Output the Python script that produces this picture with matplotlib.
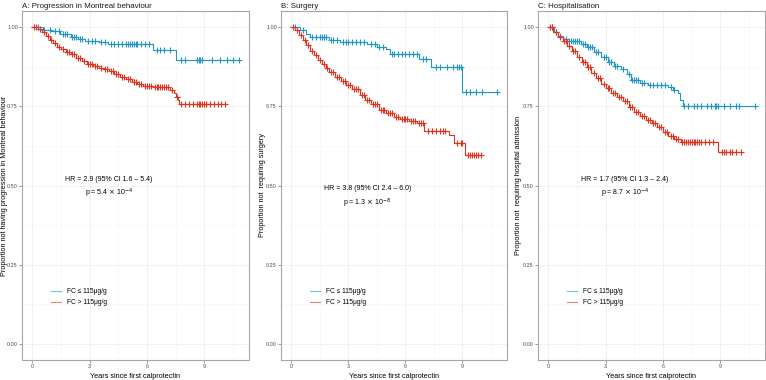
import numpy as np
import matplotlib
matplotlib.use('Agg')
import matplotlib.pyplot as plt

plt.rcParams['font.family'] = ['Liberation Sans', 'DejaVu Sans']

# colours
blue = '#2196C4'
red = '#E2311D'

#######################################################################
# Survival steps (time in years, proportion)

# A: Progression in Montreal behaviour
tA_b = [0, 0.55, 1.0, 1.45, 2.0, 2.4, 2.75, 3.5, 3.95, 6.3, 7.5, 10.8]
sA_b = [1.0, 0.99, 0.986, 0.978, 0.968, 0.962, 0.956, 0.951, 0.946, 0.927, 0.896, 0.896]
cA_b = [0.3, 0.6, 0.9, 1.2, 1.4, 1.6, 1.7, 1.8, 2.1, 2.2, 2.3, 2.5, 2.6, 2.9, 3.1, 3.3,
        3.6, 3.8, 4.1, 4.3, 4.5, 4.7, 4.9, 5.0, 5.1, 5.2, 5.3, 5.4, 5.5, 5.7, 5.9, 6.1,
        6.5, 6.7, 6.9, 7.2, 7.8, 8.0, 8.6, 8.7, 8.8, 8.9, 9.4, 9.8, 10.2, 10.5, 10.8]
tA_r = [0, 0.3, 0.5, 0.7, 0.9, 1.1, 1.3, 1.5, 1.75, 2.0, 2.3, 2.6, 2.85, 3.2, 3.5, 3.75,
        4.0, 4.3, 4.6, 4.9, 5.2, 5.5, 5.8, 6.3, 7.2, 7.4, 7.5, 7.6, 7.7, 10.1]
sA_r = [1.0, 0.993, 0.985, 0.972, 0.96, 0.948, 0.938, 0.93, 0.922, 0.914, 0.903, 0.893,
        0.884, 0.876, 0.87, 0.866, 0.86, 0.852, 0.843, 0.835, 0.827, 0.82, 0.815, 0.81,
        0.80, 0.79, 0.78, 0.768, 0.758, 0.758]
cA_r = [0.1, 0.2, 0.4, 0.6, 0.8, 1.0, 1.2, 1.4, 1.6, 1.8, 1.9, 2.1, 2.2, 2.4, 2.5, 2.7,
        2.9, 3.0, 3.1, 3.3, 3.4, 3.6, 3.8, 3.9, 4.1, 4.2, 4.4, 4.5, 4.7, 4.8, 5.0, 5.1,
        5.3, 5.4, 5.6, 5.7, 5.9, 6.0, 6.1, 6.2, 6.4, 6.5, 6.6, 6.7, 6.8, 6.9, 7.0, 7.1,
        7.3, 7.55, 7.8, 8.0, 8.2, 8.4, 8.6, 8.7, 8.8, 8.9, 9.0, 9.1, 9.3, 9.5, 9.7, 9.9, 10.1]

# B: Surgery
tB_b = [0, 0.45, 0.8, 1.0, 2.0, 2.55, 4.0, 4.5, 5.0, 5.2, 6.7, 7.35, 9.0, 10.8]
sB_b = [1.0, 0.99, 0.978, 0.967, 0.96, 0.951, 0.946, 0.938, 0.93, 0.915, 0.899, 0.875,
        0.795, 0.795]
cB_b = [0.2, 0.6, 1.1, 1.3, 1.5, 1.6, 1.7, 1.8, 2.1, 2.2, 2.4, 2.7, 2.9, 3.0, 3.2, 3.4,
        3.6, 3.8, 4.2, 4.4, 4.6, 4.8, 5.3, 5.4, 5.6, 5.8, 6.0, 6.2, 6.4, 6.6, 6.9, 7.1,
        7.6, 7.8, 8.2, 8.5, 8.7, 8.8, 8.9, 9.2, 9.4, 9.7, 10.0, 10.8]
tB_r = [0, 0.2, 0.4, 0.6, 0.8, 1.0, 1.2, 1.4, 1.6, 1.8, 2.0, 2.3, 2.6, 2.9, 3.2, 3.6,
        3.9, 4.2, 4.6, 5.0, 5.4, 5.7, 6.2, 6.6, 7.0, 8.3, 8.55, 9.15, 9.96]
sB_r = [1.0, 0.99, 0.975, 0.96, 0.942, 0.925, 0.91, 0.897, 0.884, 0.87, 0.857, 0.842,
        0.828, 0.816, 0.804, 0.784, 0.77, 0.757, 0.738, 0.728, 0.717, 0.71, 0.703, 0.696,
        0.672, 0.66, 0.633, 0.597, 0.597]
cB_r = [0.1, 0.3, 0.5, 0.7, 0.9, 1.1, 1.3, 1.5, 1.7, 1.9, 2.1, 2.2, 2.4, 2.5, 2.7, 2.8,
        3.0, 3.1, 3.3, 3.4, 3.5, 3.7, 3.8, 4.0, 4.1, 4.3, 4.4, 4.5, 4.7, 4.8, 4.9, 5.1,
        5.2, 5.3, 5.5, 5.6, 5.8, 5.9, 6.0, 6.1, 6.3, 6.4, 6.5, 6.7, 6.8, 6.9, 7.2, 7.4,
        7.6, 7.8, 8.0, 8.1, 8.7, 8.9, 9.0, 9.3, 9.4, 9.5, 9.6, 9.7, 9.8, 9.96]

# C: Hospitalisation
tC_b = [0, 0.3, 0.5, 0.75, 1.0, 1.7, 2.0, 2.4, 2.75, 3.1, 3.45, 3.8, 4.1, 4.35, 4.8, 5.2,
        6.25, 6.5, 6.77, 6.9, 7.03, 10.8]
sC_b = [1.0, 0.985, 0.972, 0.962, 0.956, 0.946, 0.935, 0.92, 0.905, 0.888, 0.878, 0.868,
        0.85, 0.831, 0.822, 0.816, 0.81, 0.8, 0.79, 0.77, 0.75, 0.75]
cC_b = [0.2, 0.4, 0.6, 0.9, 1.1, 1.2, 1.3, 1.4, 1.5, 1.6, 1.8, 1.9, 2.1, 2.2, 2.3, 2.5,
        2.6, 2.9, 3.0, 3.2, 3.3, 3.5, 3.6, 3.9, 4.2, 4.4, 4.5, 4.6, 4.7, 4.9, 5.0, 5.3,
        5.5, 5.7, 5.9, 6.1, 6.4, 6.6, 7.1, 7.3, 7.6, 7.8, 8.0, 8.3, 8.5, 8.7, 8.8, 8.9,
        9.2, 9.5, 9.8, 10.0, 10.8]
tC_r = [0, 0.25, 0.5, 0.75, 1.0, 1.25, 1.5, 1.75, 2.0, 2.25, 2.5, 2.75, 3.0, 3.3, 3.6,
        3.9, 4.2, 4.5, 4.8, 5.1, 5.4, 5.7, 6.0, 6.25, 6.6, 6.95, 8.9, 10.1]
sC_r = [1.0, 0.985, 0.967, 0.955, 0.941, 0.925, 0.905, 0.888, 0.872, 0.855, 0.838, 0.821,
        0.806, 0.793, 0.779, 0.765, 0.748, 0.732, 0.72, 0.708, 0.696, 0.683, 0.67, 0.656,
        0.645, 0.638, 0.607, 0.607]
cC_r = [0.1, 0.2, 0.4, 0.6, 0.8, 0.9, 1.1, 1.3, 1.4, 1.6, 1.8, 1.9, 2.1, 2.2, 2.4, 2.6,
        2.7, 2.9, 3.1, 3.2, 3.4, 3.5, 3.7, 3.8, 4.0, 4.1, 4.3, 4.4, 4.6, 4.7, 4.9, 5.0,
        5.2, 5.3, 5.5, 5.6, 5.8, 5.9, 6.1, 6.2, 6.4, 6.5, 6.7, 6.8, 7.0, 7.1, 7.2, 7.3,
        7.4, 7.5, 7.6, 7.7, 7.8, 7.9, 8.0, 8.2, 8.4, 8.6, 9.1, 9.2, 9.3, 9.5, 9.6, 9.8, 10.1]

titles = ['A: Progression in Montreal behaviour', 'B: Surgery', 'C: Hospitalisation']
ylabels = ['Proportion not having progression in Montreal behaviour',
           'Proportion not  requiring surgery',
           'Proportion not  requiring hospital admission']
hr_text = ['HR = 2.9 (95% CI 1.6 \u2013 5.4)', 'HR = 3.8 (95% CI 2.4 \u2013 6.0)',
           'HR = 1.7 (95% CI 1.3 \u2013 2.4)']
p_text = [r'p = 5.4 $\times$ 10$^{-4}$', r'p = 1.3 $\times$ 10$^{-8}$',
          r'p = 8.7 $\times$ 10$^{-4}$']
hr_y = [0.52, 0.49, 0.52]
p_y = [0.475, 0.445, 0.475]
legend_labels = ['FC \u2264 115\u03bcg/g', 'FC > 115\u03bcg/g']

curves = [
    (tA_b, sA_b, cA_b, tA_r, sA_r, cA_r),
    (tB_b, sB_b, cB_b, tB_r, sB_r, cB_r),
    (tC_b, sC_b, cC_b, tC_r, sC_r, cC_r),
]

W, H = 766, 380
fig = plt.figure(figsize=(W / 100, H / 100), dpi=100)

# axes boxes in pixels: left, right, top, bottom
boxes = [(22, 249, 11, 360), (281, 507, 11, 360), (538, 765, 11, 360)]
ylab_x = [4.5, 262, 519]


def surv_at(t, s, c):
    t = np.asarray(t)
    s = np.asarray(s)
    idx = np.searchsorted(t, c, side='right') - 1
    return s[idx]


for i, (l, r, tp, bt) in enumerate(boxes):
    ax = fig.add_axes([l / W, 1 - bt / H, (r - l) / W, (bt - tp) / H])
    tb, sb, cb, tr, sr, cr = curves[i]

    # step curves
    ax.step(tb, sb, where='post', color=blue, lw=0.8, zorder=3)
    ax.step(tr, sr, where='post', color=red, lw=0.8, zorder=3)
    # censor marks
    ax.plot(cb, surv_at(tb, sb, cb), '+', color=blue, ms=4.5, mew=0.8, zorder=4)
    ax.plot(cr, surv_at(tr, sr, cr), '+', color=red, ms=4.5, mew=0.8, zorder=4)

    ax.set_xlim(-0.54, 11.34)
    ax.set_ylim(-0.05, 1.05)
    ax.set_xticks([0, 3, 6, 9])
    ax.set_yticks([0, 0.25, 0.5, 0.75, 1.0])
    ax.set_yticklabels(['0.00', '0.25', '0.50', '0.75', '1.00'])
    ax.set_xticks([1.5, 4.5, 7.5, 10.5], minor=True)
    ax.set_yticks([0.125, 0.375, 0.625, 0.875], minor=True)
    ax.grid(which='major', color='#EBEBEB', lw=0.5)
    ax.grid(which='minor', color='#F5F5F5', lw=0.4)
    ax.set_axisbelow(True)
    ax.tick_params(which='major', labelsize=3.9, colors='#4D4D4D', length=2, width=0.4, pad=1)
    ax.tick_params(which='minor', length=0)
    for sp in ax.spines.values():
        sp.set_color('#A6A6A6')
        sp.set_linewidth(0.8)

    ax.set_title(titles[i], loc='left', fontsize=5.7, pad=2.5, color='#1A1A1A')
    ax.set_xlabel('Years since first calprotectin', fontsize=5.2, va='center')
    ax.xaxis.set_label_coords(0.5, (bt - 376) / (bt - tp))
    ax.set_ylabel(ylabels[i], fontsize=5.2, va='center')
    ax.yaxis.set_label_coords((ylab_x[i] - l) / (r - l), 0.5)

    ax.text(4.0, hr_y[i], hr_text[i], ha='center', va='center', fontsize=5.0)
    ax.text(4.0, p_y[i], p_text[i], ha='center', va='center', fontsize=5.0)

    # legend
    lb, = ax.plot([], [], color=blue, lw=0.8, alpha=0.6)
    lr, = ax.plot([], [], color=red, lw=0.8, alpha=0.6)
    ax.legend([lb, lr], legend_labels, loc='center left', bbox_to_anchor=(0.1, 0.18),
              frameon=False, fontsize=4.8, handlelength=1.6, labelspacing=0.6)

fig.savefig('out.png', dpi=100)
